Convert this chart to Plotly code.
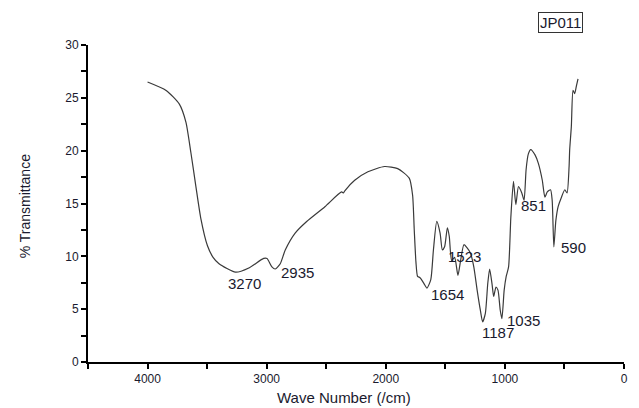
import plotly.graph_objects as go

wavenumber = [4000, 3844, 3733, 3678, 3636, 3594, 3553, 3497, 3450, 3400, 3261, 3150, 3025, 2997,
              2956, 2928, 2886, 2844, 2761, 2664, 2511, 2372, 2355, 2344, 2261, 2150, 2011,
              1900, 1803, 1775, 1761, 1747, 1733, 1715, 1706, 1678, 1654, 1622, 1600, 1572,
              1544, 1525, 1506, 1483, 1467, 1447, 1422, 1394, 1372, 1344, 1317, 1289, 1261,
              1233, 1206, 1187, 1164, 1144, 1128, 1108, 1094, 1075, 1058, 1039, 1025, 1006,
              989, 969, 950, 928, 908, 886, 858, 839, 822, 803, 783, 747, 719, 686, 664, 644,
              617, 603, 589, 572, 553, 525, 497, 478, 461, 456, 442, 428, 414, 400, 386]
transmittance = [26.5, 25.7, 24.4, 22.7, 19.8, 16.6, 13.6, 11.0, 9.9, 9.3, 8.5, 8.9, 9.8, 9.8,
                 9.0, 8.8, 9.3, 10.6, 12.2, 13.3, 14.7, 16.1, 16.0, 16.2, 17.2, 18.0, 18.5,
                 18.3, 17.4, 15.8, 12.5, 9.5, 8.1, 8.0, 7.9, 7.4, 7.0, 7.8, 10.6, 13.3,
                 12.2, 10.6, 10.9, 12.7, 11.9, 9.6, 9.9, 8.2, 9.6, 11.1, 10.8, 10.3, 9.0,
                 6.8, 4.9, 3.8, 4.6, 7.4, 8.8, 7.4, 6.2, 7.1, 6.8, 4.9, 4.1, 6.8,
                 8.1, 9.0, 13.7, 17.1, 14.9, 16.6, 16.0, 15.3, 18.2, 19.7, 20.1, 19.6, 18.8,
                 17.2, 15.6, 16.1, 16.3, 15.3, 10.9, 13.4, 14.7, 15.6, 16.3, 16.0, 18.5, 20.1,
                 22.3, 25.7, 25.4, 26.1, 26.8]

peak_labels = ["3270", "2935", "1654", "1523", "1187", "1035", "851", "590"]
label_x = [3185, 2745, 1483, 1338, 1057, 842, 758, 428]
label_y = [7.45, 8.45, 6.4, 10.0, 2.75, 3.9, 14.85, 10.85]

x_tickvals = [4500, 4000, 3500, 3000, 2500, 2000, 1500, 1000, 500, 0]
x_ticktext = ["", "4000", "", "3000", "", "2000", "", "1000", "", "0"]
y_tickvals = [0, 2.5, 5, 7.5, 10, 12.5, 15, 17.5, 20, 22.5, 25, 27.5, 30]
y_ticktext = ["0", "", "5", "", "10", "", "15", "", "20", "", "25", "", "30"]

text_color = "#1a1a2e"
font_family = "Liberation Sans, Arial, sans-serif"

fig = go.Figure()
fig.add_trace(go.Scatter(
    x=wavenumber, y=transmittance, mode="lines",
    line=dict(color="#3a3a3a", width=1.2, shape="spline", smoothing=0.6),
    showlegend=False, hoverinfo="skip"))

annotations = []
for t, xv, yv in zip(peak_labels, label_x, label_y):
    annotations.append(dict(x=xv, y=yv, xref="x", yref="y", text=t, showarrow=False,
                            xanchor="center", yanchor="middle",
                            font=dict(size=15, color=text_color, family=font_family)))

annotations.append(dict(x=0.882, y=1.071, xref="paper", yref="paper", text="JP011",
                        showarrow=False, bordercolor="#333333", borderwidth=1, borderpad=1,
                        xanchor="center", yanchor="middle",
                        font=dict(size=15, color=text_color, family=font_family)))
annotations.append(dict(x=-0.117, y=0.492, xref="paper", yref="paper", text="% Transmittance",
                        showarrow=False, textangle=-90, xanchor="center", yanchor="middle",
                        font=dict(size=14, color=text_color, family=font_family)))
annotations.append(dict(x=0.478, y=-0.112, xref="paper", yref="paper", text="Wave Number (/cm)",
                        showarrow=False, xanchor="center", yanchor="middle",
                        font=dict(size=15, color=text_color, family=font_family)))

fig.update_layout(
    width=639, height=408,
    margin=dict(l=88, r=11, t=45, b=46),
    paper_bgcolor="white", plot_bgcolor="white",
    annotations=annotations,
    xaxis=dict(range=[4500, 0], tickvals=x_tickvals, ticktext=x_ticktext,
               showline=True, linecolor="black", linewidth=2, ticks="outside",
               ticklen=5, tickwidth=2, tickcolor="black", showgrid=False, zeroline=False,
               tickfont=dict(size=12, color=text_color, family=font_family)),
    yaxis=dict(range=[0, 30], tickvals=y_tickvals, ticktext=y_ticktext,
               showline=True, linecolor="black", linewidth=2, ticks="outside",
               ticklen=5, tickwidth=2, tickcolor="black", showgrid=False, zeroline=False,
               tickfont=dict(size=12, color=text_color, family=font_family)),
)

fig.write_html("out.html")
